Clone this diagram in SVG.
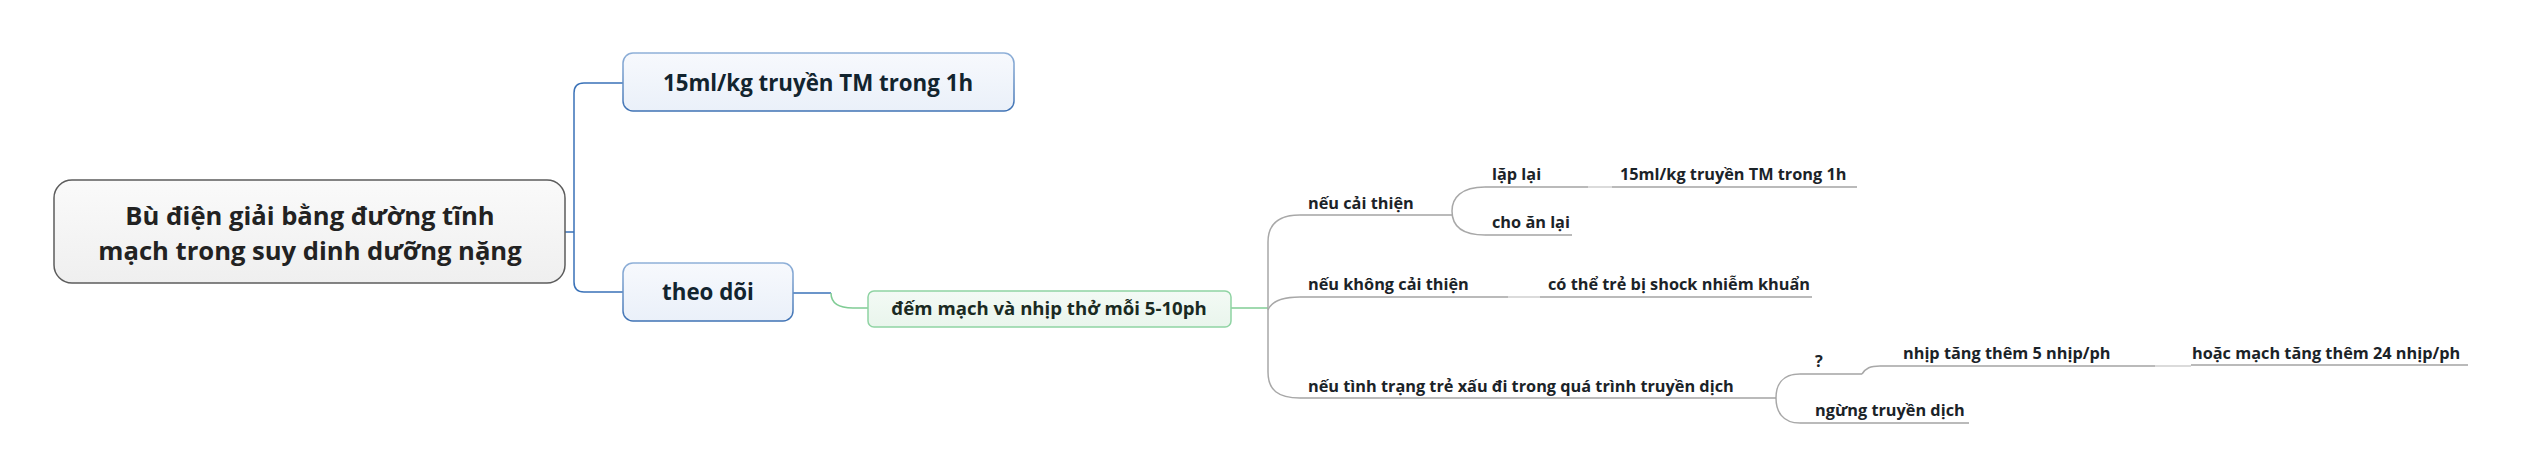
<svg xmlns="http://www.w3.org/2000/svg" width="2521" height="476" viewBox="0 0 2521 476">
<defs>
<linearGradient id="gRoot" x1="0" y1="0" x2="0" y2="1"><stop offset="0" stop-color="#fafafa"/><stop offset="1" stop-color="#efefef"/></linearGradient>
<linearGradient id="gBlue" x1="0" y1="0" x2="0" y2="1"><stop offset="0" stop-color="#f7f9fd"/><stop offset="1" stop-color="#eaf0f9"/></linearGradient>
<linearGradient id="gBlueStroke" x1="0" y1="0" x2="0" y2="1"><stop offset="0" stop-color="#8fb0d8"/><stop offset="1" stop-color="#3f72b4"/></linearGradient>
<linearGradient id="gGreen" x1="0" y1="0" x2="0" y2="1"><stop offset="0" stop-color="#f3faf5"/><stop offset="1" stop-color="#e9f5ec"/></linearGradient>
</defs>
<style>
text{font-family:"Open Sans","Noto Sans","DejaVu Sans",sans-serif;font-weight:700;fill:#1b2328}
.root{font-size:25.6px;text-anchor:middle;fill:#222}
.main{font-size:22.3px;text-anchor:middle;fill:#12242f}
.sub{font-size:18.6px;text-anchor:middle;fill:#1a2a22}
.leaf{font-size:16.3px}
.ul{stroke:#a3a3a3;stroke-width:1.5;fill:none}
.cb{stroke:#3a72b8;stroke-width:1.5;fill:none}
.cg{stroke:#80cc95;stroke-width:1.5;fill:none}
.cy{stroke:#a8a8a8;stroke-width:1.5;fill:none}
.cl{stroke:#cfcfcf;stroke-width:1.5;fill:none}
</style>
<g id="connectors">
<path class="cb" d="M565,232 H574 M623,83 H584 Q574,83 574,93 V282 Q574,292 584,292 H623"/>
<path class="cb" d="M793,293 H831"/>
<path class="cg" d="M831,293 C831,303 838,308 853,308 H868"/>
<path class="cg" d="M1231,308 H1268"/>
<path class="cy" d="M1300,215 C1278,215 1268,224 1268,242 V372 C1268,390 1278,398 1300,398"/>
<path class="cy" d="M1268,310 C1272,300 1284,297 1300,297"/>
<path class="cy" d="M1485,187 C1461,187 1452,198 1452,211 C1452,225 1461,235 1485,235"/>
<path class="cl" d="M1588,187 H1612"/>
<path class="cl" d="M1508,297 H1540"/>
<path class="cy" d="M1800,374 C1782,374 1776,385 1776,398 C1776,411 1782,423 1800,423"/>
<path class="cy" d="M1862,374 C1866,368 1870,366 1880,366"/>
<path class="cl" d="M2155,366 H2191"/>
</g>
<g id="root">
<rect x="54" y="180" width="511" height="103" rx="18" fill="url(#gRoot)" stroke="#5c5c5c" stroke-width="1.5"/>
<text class="root" x="310" y="225">Bù điện giải bằng đường tĩnh</text>
<text class="root" x="310" y="260">mạch trong suy dinh dưỡng nặng</text>
</g>
<g id="n-15ml">
<rect x="623" y="53" width="391" height="58" rx="10" fill="url(#gBlue)" stroke="url(#gBlueStroke)" stroke-width="1.5"/>
<text class="main" x="818" y="91">15ml/kg truyền TM trong 1h</text>
</g>
<g id="n-theodoi">
<rect x="623" y="263" width="170" height="58" rx="10" fill="url(#gBlue)" stroke="url(#gBlueStroke)" stroke-width="1.5"/>
<text class="main" x="708" y="300">theo dõi</text>
</g>
<g id="n-demmach">
<rect x="868" y="291" width="363" height="36" rx="6" fill="url(#gGreen)" stroke="#8fd3a3" stroke-width="1.5"/>
<text class="sub" x="1049" y="315">đếm mạch và nhịp thở mỗi 5-10ph</text>
</g>
<g id="n-neucaithien">
<line class="ul" x1="1300" y1="215" x2="1452" y2="215"/>
<text class="leaf" x="1308" y="209">nếu cải thiện</text>
</g>
<g id="n-laplai">
<line class="ul" x1="1485" y1="187" x2="1588" y2="187"/>
<text class="leaf" x="1492" y="180">lặp lại</text>
</g>
<g id="n-15ml-2">
<line class="ul" x1="1612" y1="187" x2="1857" y2="187"/>
<text class="leaf" x="1620" y="180">15ml/kg truyền TM trong 1h</text>
</g>
<g id="n-choanlai">
<line class="ul" x1="1485" y1="235" x2="1572" y2="235"/>
<text class="leaf" x="1492" y="228">cho ăn lại</text>
</g>
<g id="n-neukhong">
<line class="ul" x1="1300" y1="297" x2="1508" y2="297"/>
<text class="leaf" x="1308" y="290">nếu không cải thiện</text>
</g>
<g id="n-shock">
<line class="ul" x1="1540" y1="297" x2="1812" y2="297"/>
<text class="leaf" x="1548" y="290">có thể trẻ bị shock nhiễm khuẩn</text>
</g>
<g id="n-xaudi">
<line class="ul" x1="1300" y1="398" x2="1776" y2="398"/>
<text class="leaf" x="1308" y="392">nếu tình trạng trẻ xấu đi trong quá trình truyền dịch</text>
</g>
<g id="n-q">
<line class="ul" x1="1800" y1="374" x2="1862" y2="374"/>
<text class="leaf" x="1815" y="367">?</text>
</g>
<g id="n-nhip">
<line class="ul" x1="1880" y1="366" x2="2155" y2="366"/>
<text class="leaf" x="1903" y="359">nhịp tăng thêm 5 nhịp/ph</text>
</g>
<g id="n-hoac">
<line class="ul" x1="2191" y1="365" x2="2468" y2="365"/>
<text class="leaf" x="2192" y="359">hoặc mạch tăng thêm 24 nhịp/ph</text>
</g>
<g id="n-ngung">
<line class="ul" x1="1800" y1="423" x2="1969" y2="423"/>
<text class="leaf" x="1815" y="416">ngừng truyền dịch</text>
</g>
</svg>
